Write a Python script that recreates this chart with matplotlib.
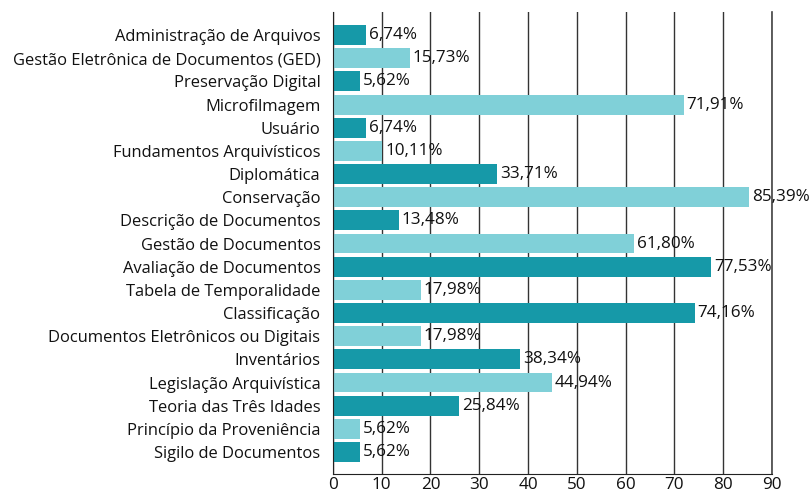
import matplotlib
matplotlib.use("Agg")
from matplotlib import pyplot as plt
import numpy as np

plt.rcParams['font.family'] = ['Open Sans', 'DejaVu Sans']

categories = [
    "Administração de Arquivos",
    "Gestão Eletrônica de Documentos (GED)",
    "Preservação Digital",
    "Microfilmagem",
    "Usuário",
    "Fundamentos Arquivísticos",
    "Diplomática",
    "Conservação",
    "Descrição de Documentos",
    "Gestão de Documentos",
    "Avaliação de Documentos",
    "Tabela de Temporalidade",
    "Classificação",
    "Documentos Eletrônicos ou Digitais",
    "Inventários",
    "Legislação Arquivística",
    "Teoria das Três Idades",
    "Princípio da Proveniência",
    "Sigilo de Documentos",
]
values = [6.74, 15.73, 5.62, 71.91, 6.74, 10.11, 33.71, 85.39, 13.48, 61.80,
          77.53, 17.98, 74.16, 17.98, 38.34, 44.94, 25.84, 5.62, 5.62]
x_ticks = [0, 10, 20, 30, 40, 50, 60, 70, 80, 90]

dark = "#1699a8"
light = "#80d0d8"
colors = [dark if i % 2 == 0 else light for i in range(len(categories))]

fig = plt.figure(figsize=(8.1, 4.97), dpi=100)
ax = fig.add_axes([0.411, 0.0463, 0.542, 0.9297])

y = np.arange(len(categories))
ax.bar_label(ax.barh(y, values, height=0.86, color=colors, zorder=3),
             labels=[("%.2f" % v).replace(".", ",") + "%" for v in values],
             padding=2, fontsize=12.3, color="#111111")

ax.set_xlim(0, 90)
ax.set_ylim(len(categories) - 0.05, -1.0)
ax.set_yticks(y)
ax.set_yticklabels(categories, fontsize=11.9, color="#111111")
ax.set_xticks(x_ticks)
ax.set_xticklabels([str(t) for t in x_ticks], fontsize=12.3, color="#111111")
ax.tick_params(length=0, pad=9)
ax.tick_params(axis='x', pad=2.5)

ax.grid(axis='x', color="#333333", linewidth=1, zorder=0)
ax.spines["top"].set_visible(False)
ax.spines["right"].set_color("#444444")
ax.spines["right"].set_linewidth(1.2)
ax.spines["left"].set_color("#222222")
ax.spines["bottom"].set_color("#222222")
ax.spines["left"].set_zorder(4)

fig.savefig("out.png", dpi=100)
